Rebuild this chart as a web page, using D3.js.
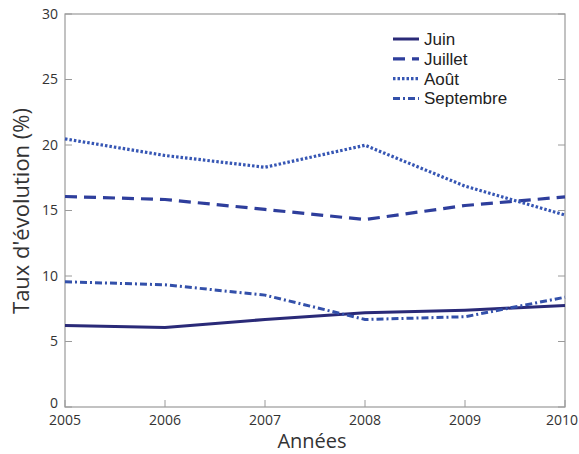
<!DOCTYPE html>
<html><head><meta charset="utf-8">
<script src="https://cdn.jsdelivr.net/npm/d3@7"></script>
<style>body{margin:0;background:#fff}</style>
</head><body>
<script>
const years = [2005, 2006, 2007, 2008, 2009, 2010];
const seriesNames = ["Juin", "Juillet", "Août", "Septembre"];
const juin = [6.22, 6.07, 6.68, 7.19, 7.39, 7.75];
const juillet = [16.07, 15.84, 15.08, 14.31, 15.38, 16.04];
const aout = [20.47, 19.2, 18.3, 19.98, 16.86, 14.65];
const septembre = [9.56, 9.33, 8.54, 6.68, 6.89, 8.38];
const yTicks = [0, 5, 10, 15, 20, 25, 30];
const xTicks = [2005, 2006, 2007, 2008, 2009, 2010];

const W = 579, H = 454;
const m = {l: 65, r: 14, t: 14, b: 47};
const svg = d3.select("body").append("svg").attr("width", W).attr("height", H);
const x = d3.scaleLinear().domain([2005, 2010]).range([m.l, W - m.r]);
const y = d3.scaleLinear().domain([0, 30]).range([H - m.b, m.t]);

const axisColor = "#9a9a9a";
const tickFont = "'Open Sans', 'Noto Sans', sans-serif";

// box
svg.append("rect").attr("x", m.l).attr("y", m.t).attr("width", W - m.r - m.l).attr("height", H - m.b - m.t)
  .attr("fill", "none").attr("stroke", axisColor).attr("stroke-width", 1.2);

// ticks (inward)
const tl = 7;
const g = svg.append("g").attr("stroke", axisColor).attr("stroke-width", 1);
yTicks.forEach(v => {
  g.append("line").attr("x1", m.l).attr("x2", m.l + tl).attr("y1", y(v)).attr("y2", y(v));
  g.append("line").attr("x1", W - m.r).attr("x2", W - m.r - tl).attr("y1", y(v)).attr("y2", y(v));
});
xTicks.forEach(v => {
  g.append("line").attr("x1", x(v)).attr("x2", x(v)).attr("y1", H - m.b).attr("y2", H - m.b - tl);
});

// tick labels
svg.append("g").selectAll("text").data(yTicks).join("text")
  .attr("x", m.l - 7).attr("y", d => y(d) - (d === 0 ? 4 : 0)).attr("dy", "0.35em")
  .attr("text-anchor", "end").attr("font-family", tickFont).attr("font-size", 14).attr("fill", "#333")
  .text(d => d);
svg.append("g").selectAll("text").data(xTicks).join("text")
  .attr("x", (d, i) => i === xTicks.length - 1 ? W - 1 : x(d))
  .attr("y", H - m.b + 18)
  .attr("text-anchor", (d, i) => i === xTicks.length - 1 ? "end" : "middle")
  .attr("font-family", tickFont).attr("font-size", 14).attr("fill", "#333")
  .text(d => d);

// axis titles
svg.append("text").attr("x", 312).attr("y", 448).attr("text-anchor", "middle")
  .attr("font-family", tickFont).attr("font-size", 20).attr("fill", "#333").text("Années");
svg.append("text").attr("transform", `translate(29,211) rotate(-90)`)
  .attr("text-anchor", "middle").attr("font-family", tickFont).attr("font-size", 22).attr("fill", "#333")
  .text("Taux d'évolution (%)");

// series
const data = [juin, juillet, aout, septembre];
const colors = ["#2a2a78", "#2e3e9c", "#3656b4", "#3350aa"];
const dashes = [null, "12,7", "2.5,2", "7,3,2,3"];
const widths = [3, 3.2, 3.2, 3];
const line = d3.line().x((d, i) => x(years[i])).y(d => y(d));
svg.append("g").selectAll("path").data(data).join("path")
  .attr("d", d => line(d)).attr("fill", "none")
  .attr("stroke", (d, i) => colors[i]).attr("stroke-width", (d, i) => widths[i])
  .attr("stroke-dasharray", (d, i) => dashes[i]);

// legend
const lg = svg.append("g");
seriesNames.forEach((n, i) => {
  const ly = 39 + i * 19.8;
  lg.append("line").attr("x1", 393).attr("x2", 419).attr("y1", ly).attr("y2", ly)
    .attr("stroke", colors[i]).attr("stroke-width", widths[i]).attr("stroke-dasharray", dashes[i]);
  lg.append("text").attr("x", 424).attr("y", ly).attr("dy", "0.35em")
    .attr("font-family", "'Liberation Sans', Arial, sans-serif").attr("font-size", 17).attr("fill", "#222").text(n);
});
</script>
</body></html>
